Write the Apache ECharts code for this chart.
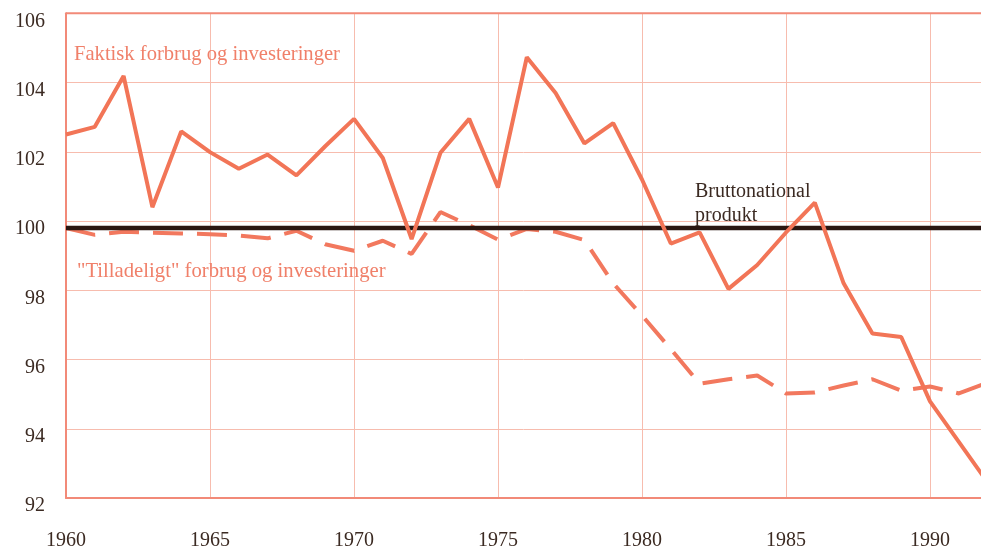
<!DOCTYPE html>
<html>
<head>
<meta charset="utf-8">
<script src="https://cdn.jsdelivr.net/npm/echarts@6/dist/echarts.min.js"></script>
<style>
html,body{margin:0;padding:0;background:#fff;overflow:hidden;}
#chart{width:981px;height:551px;}
</style>
</head>
<body>
<div id="chart"></div>
<script>
var years = [1960,1961,1962,1963,1964,1965,1966,1967,1968,1969,1970,1971,1972,1973,1974,1975,1976,1977,1978,1979,1980,1981,1982,1983,1984,1985,1986,1987,1988,1989,1990,1991,1992];
var faktisk = [102.5,102.72,104.19,100.4,102.59,101.99,101.51,101.92,101.32,102.16,102.95,101.82,99.48,101.97,102.95,100.97,104.73,103.7,102.24,102.83,101.2,99.35,99.67,98.04,98.73,99.67,100.53,98.2,96.75,96.65,94.79,93.62,92.45];
var tilladeligt = [99.8,99.6,99.69,99.66,99.64,99.62,99.58,99.5,99.72,99.33,99.14,99.43,99.05,100.26,99.88,99.46,99.77,99.69,99.45,98.2,97.27,96.3,95.3,95.43,95.54,95.02,95.05,95.25,95.43,95.1,95.22,95.02,95.33];
var bnpLevel = 99.8;
var yTicks = {min: 92, max: 106, interval: 2};
var xTicks = {min: 1960, max: 1991.77, interval: 5};
var labelFaktisk = 'Faktisk forbrug og investeringer';
var labelTilladeligt = '"Tilladeligt" forbrug og investeringer';
var labelBnp1 = 'Bruttonational';
var labelBnp2 = 'produkt';

function pairs(vals){ return years.map(function(y,i){ return [y, vals[i]]; }); }

var chart = echarts.init(document.getElementById('chart'), null, {renderer:'canvas'});
var serif = '"Liberation Serif", "DejaVu Serif", serif';
var salmon = '#f0806a';
var textDark = '#3b2a22';

chart.setOption({
  animation: false,
  backgroundColor: '#ffffff',
  grid: {left: 66, right: 0, top: 13.3, bottom: 45, show: false},
  xAxis: {
    type: 'value', min: xTicks.min, max: xTicks.max, interval: xTicks.interval,
    axisLine: {show: true, lineStyle: {color: '#f28a78', width: 2}},
    axisTick: {show: false},
    axisLabel: {color: textDark, fontFamily: serif, fontSize: 20, margin: 33, showMaxLabel: false,
      formatter: function(v){ return String(v); }},
    splitLine: {show: true, lineStyle: {color: '#f7bcae', width: 1}}
  },
  yAxis: {
    type: 'value', min: yTicks.min, max: yTicks.max, interval: yTicks.interval,
    axisLine: {show: true, lineStyle: {color: '#f28a78', width: 2}},
    axisTick: {show: false},
    axisLabel: {color: textDark, fontFamily: serif, fontSize: 20, margin: 21, verticalAlign: 'top', lineHeight: 16},
    splitLine: {show: true, lineStyle: {color: '#f7bcae', width: 1}}
  },
  series: [
    {
      name: labelTilladeligt, type: 'line', data: pairs(tilladeligt), symbol: 'none', z: 2, clip: true,
      lineStyle: {color: '#f2785e', width: 4, type: [30, 14]}
    },
    {
      name: labelBnp1 + ' ' + labelBnp2, type: 'line',
      data: [[years[0], bnpLevel], [years[years.length-1], bnpLevel]], symbol: 'none', z: 3, clip: true,
      lineStyle: {color: '#2a1712', width: 4.5}
    },
    {
      name: labelFaktisk, type: 'line', data: pairs(faktisk), symbol: 'none', z: 4, clip: true,
      lineStyle: {color: '#f27557', width: 4}
    }
  ],
  graphic: [
    {type: 'line', shape: {x1: 66, y1: 13.3, x2: 981, y2: 13.3}, style: {stroke: '#f28a78', lineWidth: 2}, z: 10},
    {type: 'text', left: 74, top: 44, style: {text: labelFaktisk, fill: salmon, font: '20.6px ' + serif}, z: 10},
    {type: 'text', left: 77, top: 261, style: {text: labelTilladeligt, fill: salmon, font: '20.7px ' + serif}, z: 10},
    {type: 'text', left: 695, top: 182, style: {text: labelBnp1, fill: textDark, font: '20px ' + serif}, z: 10},
    {type: 'text', left: 695, top: 206, style: {text: labelBnp2, fill: textDark, font: '20px ' + serif}, z: 10}
  ]
});
</script>
</body>
</html>
